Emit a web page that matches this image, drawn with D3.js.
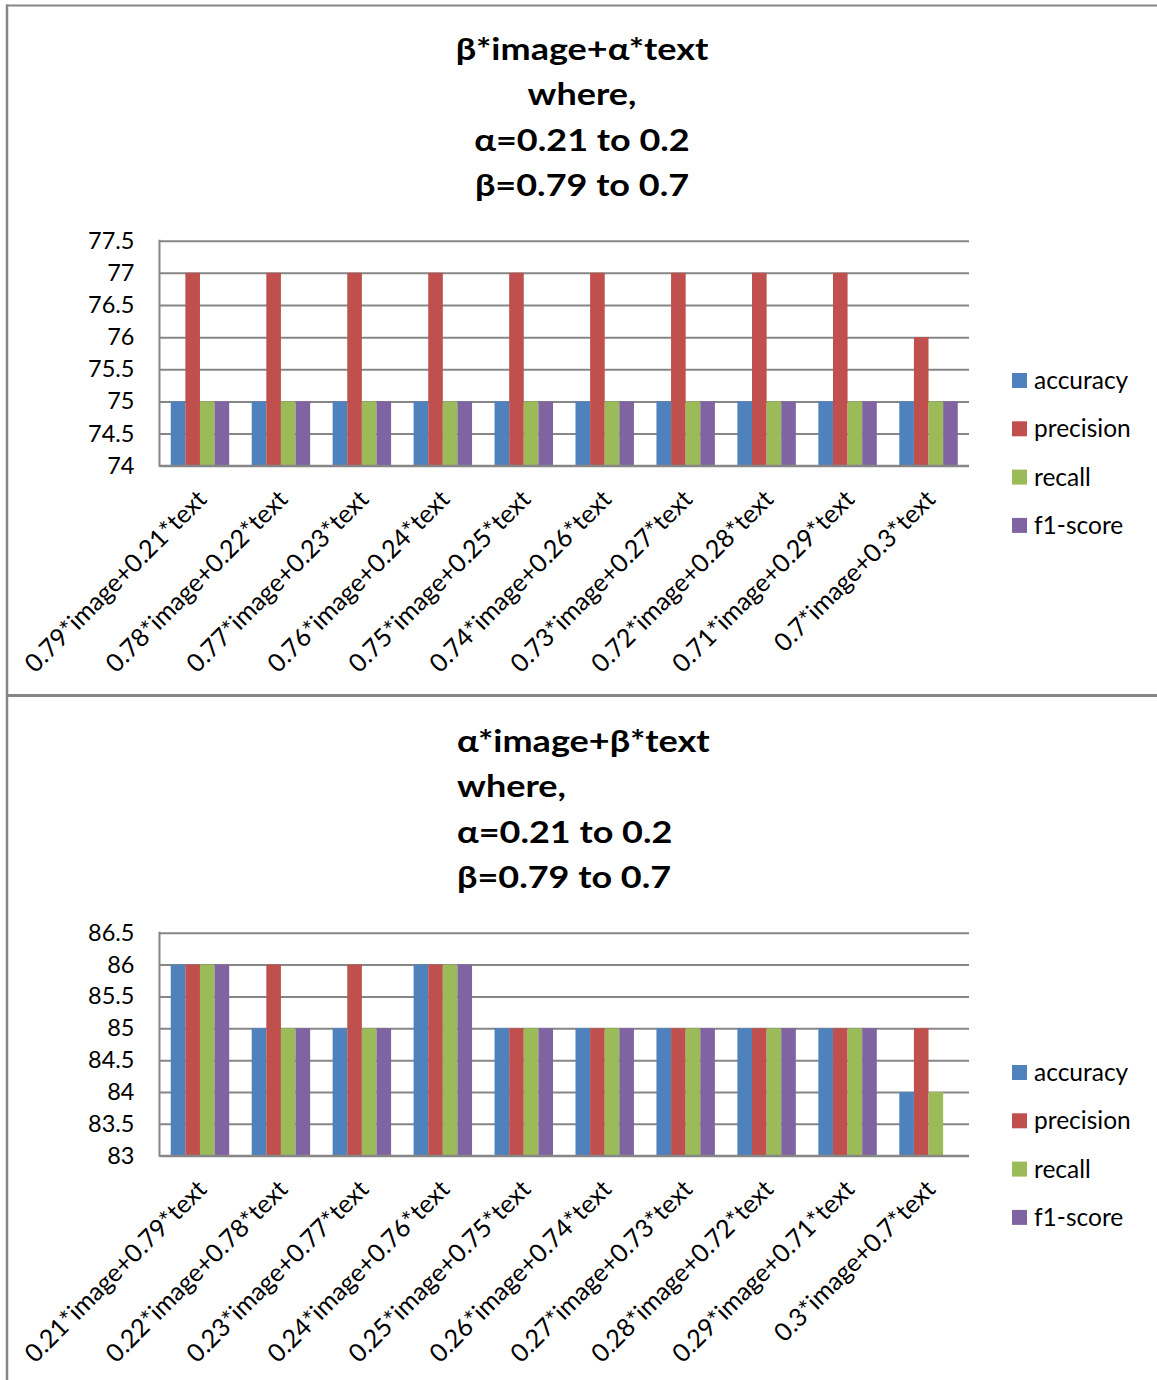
<!DOCTYPE html>
<html>
<head>
<meta charset="utf-8">
<script src="https://cdn.jsdelivr.net/npm/d3@7"></script>
<style>
  html, body { margin: 0; padding: 0; background: #fff; }
  svg { display: block; font-family: Lato, "Open Sans", "DejaVu Sans", sans-serif; }
</style>
</head>
<body>
<svg id="chart" width="1157" height="1380"></svg>
<script>
// Metric names and colours shared by both panels
const seriesNames = ["accuracy", "precision", "recall", "f1-score"];
const seriesColors = ["#4F81BD", "#C0504D", "#9BBB59", "#8064A2"];

// Panel 1: β*image + α*text
const topTitle = ["β*image+α*text", "where,", "α=0.21 to 0.2", "β=0.79 to 0.7"];
const topCategories = [
  "0.79*image+0.21*text", "0.78*image+0.22*text", "0.77*image+0.23*text",
  "0.76*image+0.24*text", "0.75*image+0.25*text", "0.74*image+0.26*text",
  "0.73*image+0.27*text", "0.72*image+0.28*text", "0.71*image+0.29*text",
  "0.7*image+0.3*text"
];
const topAccuracy  = [75, 75, 75, 75, 75, 75, 75, 75, 75, 75];
const topPrecision = [77, 77, 77, 77, 77, 77, 77, 77, 77, 76];
const topRecall    = [75, 75, 75, 75, 75, 75, 75, 75, 75, 75];
const topF1        = [75, 75, 75, 75, 75, 75, 75, 75, 75, 75];
const topTicks = [74, 74.5, 75, 75.5, 76, 76.5, 77, 77.5];

// Panel 2: α*image + β*text
const bottomTitle = ["α*image+β*text", "where,", "α=0.21 to 0.2", "β=0.79 to 0.7"];
const bottomCategories = [
  "0.21*image+0.79*text", "0.22*image+0.78*text", "0.23*image+0.77*text",
  "0.24*image+0.76*text", "0.25*image+0.75*text", "0.26*image+0.74*text",
  "0.27*image+0.73*text", "0.28*image+0.72*text", "0.29*image+0.71*text",
  "0.3*image+0.7*text"
];
const bottomAccuracy  = [86, 85, 85, 86, 85, 85, 85, 85, 85, 84];
const bottomPrecision = [86, 86, 86, 86, 85, 85, 85, 85, 85, 85];
const bottomRecall    = [86, 85, 85, 86, 85, 85, 85, 85, 85, 84];
const bottomF1        = [86, 85, 85, 86, 85, 85, 85, 85, 85, 83];
const bottomTicks = [83, 83.5, 84, 84.5, 85, 85.5, 86, 86.5];

const svg = d3.select("#chart");
const gridColor = "#868686";

// Panel frames
svg.append("line").attr("x1", 6).attr("x2", 1157).attr("y1", 5.5).attr("y2", 5.5)
  .attr("stroke", gridColor).attr("stroke-width", 2);
svg.append("line").attr("x1", 7).attr("x2", 7).attr("y1", 4.5).attr("y2", 1380)
  .attr("stroke", gridColor).attr("stroke-width", 2.5);
svg.append("line").attr("x1", 6).attr("x2", 1157).attr("y1", 695.5).attr("y2", 695.5)
  .attr("stroke", gridColor).attr("stroke-width", 3);

function drawPanel(opts) {
  const g = svg.append("g");
  const plot = { left: 159.5, right: 969, top: opts.plotTop, bottom: opts.plotBottom };

  // Title block (slightly widened lettering)
  const title = g.append("text")
    .attr("transform", `translate(${opts.titleX},0) scale(1.15,1)`)
    .attr("font-weight", "bold").attr("font-size", 31.3).attr("fill", "#000")
    .attr("text-anchor", opts.titleAnchor);
  opts.title.forEach((line, i) => {
    title.append("tspan").attr("x", 0).attr("y", opts.titleY + i * 45.3).text(line);
  });

  const values = [opts.acc, opts.prec, opts.rec, opts.f1];
  const rows = opts.categories.map((c, i) => ({
    category: c,
    values: seriesNames.map((s, k) => ({ series: s, k, value: values[k][i] }))
  }));

  const x = d3.scaleBand().domain(opts.categories).range([plot.left, plot.right]);
  const xs = d3.scaleBand().domain(seriesNames).range([0, x.bandwidth()]).paddingOuter(0.77);
  const y = d3.scaleLinear().domain([opts.ticks[0], opts.ticks[opts.ticks.length - 1]])
    .range([plot.bottom, plot.top]);

  // Gridlines and value ticks
  const yAxis = d3.axisLeft(y).tickValues(opts.ticks).tickFormat(d3.format("~g"))
    .tickSize(-(plot.right - plot.left)).tickPadding(25);
  const ya = g.append("g").attr("transform", `translate(${plot.left},0)`).call(yAxis);
  ya.select(".domain").remove();
  ya.selectAll(".tick line").attr("stroke", gridColor).attr("stroke-width", 2);
  ya.selectAll(".tick text").attr("font-size", 23.5).attr("fill", "#000")
    .attr("font-family", "Lato, 'Open Sans', sans-serif");

  // Bars
  const groups = g.append("g").selectAll("g").data(rows).join("g")
    .attr("transform", d => `translate(${x(d.category)},0)`);
  groups.selectAll("rect").data(d => d.values).join("rect")
    .attr("x", d => xs(d.series))
    .attr("width", xs.bandwidth())
    .attr("y", d => y(d.value))
    .attr("height", d => y(opts.ticks[0]) - y(d.value))
    .attr("fill", d => seriesColors[d.k]);

  // Vertical axis line and baseline
  g.append("line").attr("x1", plot.left).attr("x2", plot.left)
    .attr("y1", plot.top - 1).attr("y2", plot.bottom + 1)
    .attr("stroke", gridColor).attr("stroke-width", 2);
  g.append("line").attr("x1", plot.left).attr("x2", plot.right)
    .attr("y1", plot.bottom).attr("y2", plot.bottom)
    .attr("stroke", gridColor).attr("stroke-width", 2);

  // Rotated category labels
  g.append("g").selectAll("text").data(opts.categories).join("text")
    .attr("transform", d => `translate(${x(d) + x.bandwidth() / 2 + 2},${plot.bottom + 29}) rotate(-45)`)
    .attr("text-anchor", "end").attr("font-size", 25.2).attr("fill", "#000")
    .attr("dy", "0.35em")
    .text(d => d);

  // Legend
  const legend = g.append("g").selectAll("g").data(seriesNames).join("g")
    .attr("transform", (d, i) => `translate(1012,${opts.legendY + i * 48.3})`);
  legend.append("rect").attr("x", 0).attr("y", -7.5).attr("width", 15).attr("height", 15)
    .attr("fill", (d, i) => seriesColors[i]);
  legend.append("text").attr("x", 22).attr("dy", "0.35em").attr("font-size", 24.5)
    .attr("fill", "#000").text(d => d);
}

drawPanel({
  title: topTitle, titleAnchor: "middle", titleX: 582, titleY: 60,
  categories: topCategories, acc: topAccuracy, prec: topPrecision, rec: topRecall, f1: topF1,
  ticks: topTicks, plotTop: 240.7, plotBottom: 465.7, legendY: 380.5
});

drawPanel({
  title: bottomTitle, titleAnchor: "start", titleX: 457, titleY: 752,
  categories: bottomCategories, acc: bottomAccuracy, prec: bottomPrecision, rec: bottomRecall, f1: bottomF1,
  ticks: bottomTicks, plotTop: 932.7, plotBottom: 1155.7, legendY: 1072.5
});
</script>
</body>
</html>
